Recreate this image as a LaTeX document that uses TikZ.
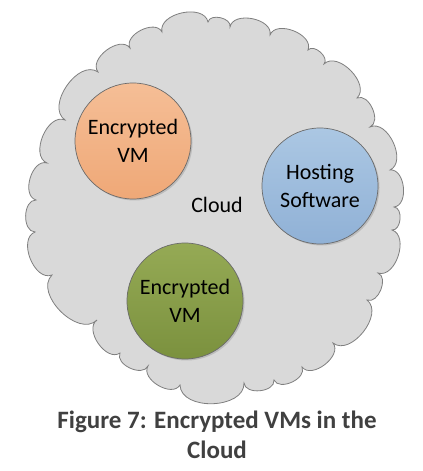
\documentclass[tikz,border=0pt]{standalone}
\usepackage{fontspec}
\setmainfont{Carlito}
\usetikzlibrary{shadows}
\definecolor{cloudfill}{HTML}{D9D9D9}
\definecolor{cloudline}{HTML}{7F7F7F}
\definecolor{vmline}{HTML}{6A6A6A}
\definecolor{orangetop}{HTML}{F5BE96}
\definecolor{orangebot}{HTML}{EFA877}
\definecolor{bluetop}{HTML}{ABC7E3}
\definecolor{bluebot}{HTML}{90B1D6}
\definecolor{greentop}{HTML}{95AA55}
\definecolor{greenbot}{HTML}{7B913E}
\definecolor{captioncol}{HTML}{404040}
\tikzset{
  bump/.style={bend left=90, looseness=1.05},
  cloudshape/.style={fill=cloudfill, draw=cloudline, line width=0.8bp},
  vmcircle/.style={circle, draw=vmline, line width=0.7bp, minimum size=116bp, inner sep=0pt,
    align=center, font=\fontsize{22bp}{28bp}\selectfont,
    drop shadow={shadow xshift=1.5bp, shadow yshift=-1.5bp, opacity=0.25, fill=black!60}},
  cloudlabel/.style={font=\fontsize{22bp}{28bp}\selectfont, inner sep=0pt},
  caption/.style={font=\fontsize{25bp}{30bp}\selectfont\bfseries, text=captioncol, align=center, inner sep=0pt}
}
\begin{document}
\begin{tikzpicture}[x=1bp, y=1bp]
\useasboundingbox (0,0) rectangle (422,471);
% cloud cusps
\coordinate (c1) at (98,399);
\coordinate (c2) at (130,423);
\coordinate (c3) at (162,439);
\coordinate (c4) at (208,449);
\coordinate (c5) at (230,444);
\coordinate (c6) at (270,436);
\coordinate (c7) at (308,421);
\coordinate (c8) at (324,407);
\coordinate (c9) at (357,373);
\coordinate (c10) at (370,344);
\coordinate (c11) at (390,301);
\coordinate (c12) at (394,264);
\coordinate (c13) at (392,241);
\coordinate (c14) at (378,198);
\coordinate (c15) at (367,171);
\coordinate (c16) at (333,128);
\coordinate (c17) at (302,104);
\coordinate (c18) at (274,91);
\coordinate (c19) at (244,88);
\coordinate (c20) at (180,86);
\coordinate (c21) at (148,105);
\coordinate (c22) at (120,118);
\coordinate (c23) at (97,151);
\coordinate (c24) at (52,196);
\coordinate (c25) at (35,239);
\coordinate (c26) at (36,271);
\coordinate (c27) at (47,308);
\coordinate (c28) at (65,351);
\draw[cloudshape] (c1) to[bump] (c2) to[bump] (c3) to[bump] (c4) to[bump] (c5)
  to[bump] (c6) to[bump] (c7) to[bump] (c8) to[bump] (c9) to[bump] (c10)
  to[bump] (c11) to[bump] (c12) to[bump] (c13) to[bump] (c14) to[bump] (c15)
  to[bump] (c16) to[bump] (c17) to[bump] (c18) to[bump] (c19) to[bump] (c20)
  to[bump] (c21) to[bump] (c22) to[bump] (c23) to[bump] (c24) to[bump] (c25)
  to[bump] (c26) to[bump] (c27) to[bump] (c28) to[bump] (c1) -- cycle;
\node[cloudlabel, anchor=base] (cloud) at (217,258) {Cloud};
\node[vmcircle, top color=orangetop, bottom color=orangebot] (vm1) at (133,330) {Encrypted\\VM};
\node[vmcircle, top color=bluetop, bottom color=bluebot] (host) at (320,285) {Hosting\\Software};
\node[vmcircle, top color=greentop, bottom color=greenbot] (vm2) at (185,170) {Encrypted\\VM};
\node[caption] (cap) at (217,36.5) {Figure 7: Encrypted VMs in the\\Cloud};
\end{tikzpicture}
\end{document}
